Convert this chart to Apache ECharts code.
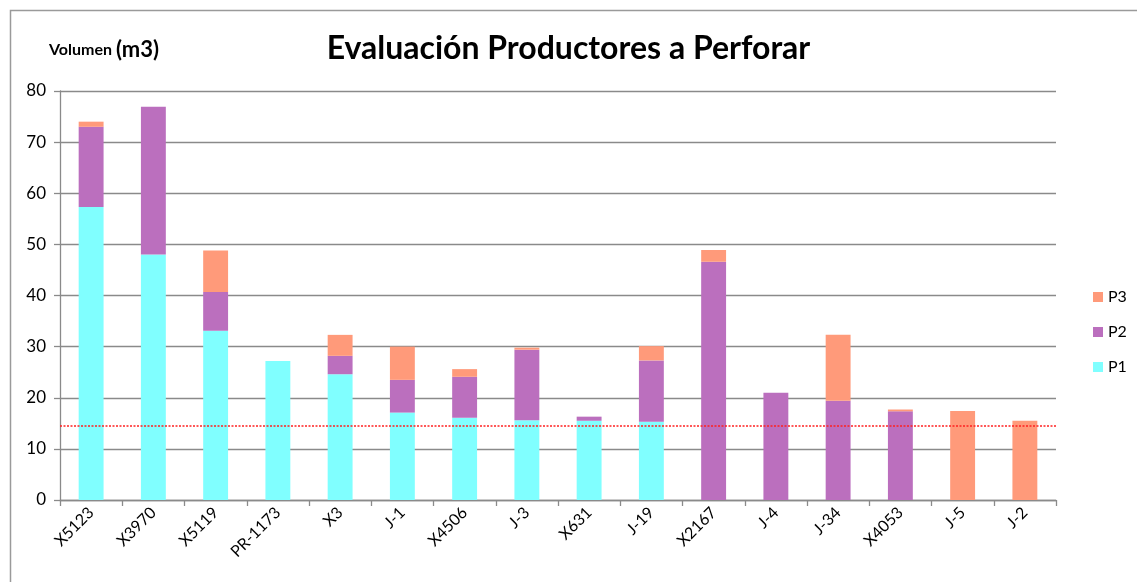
<!DOCTYPE html>
<html>
<head>
<meta charset="utf-8">
<script src="https://cdn.jsdelivr.net/npm/echarts@6/dist/echarts.min.js"></script>
<style>
  html, body { margin: 0; padding: 0; background: #fff; }
  #chart { width: 1137px; height: 582px; }
</style>
</head>
<body>
<div id="chart"></div>
<script>
// Wells evaluated, in plotted order
const categories = ['X5123', 'X3970', 'X5119', 'PR-1173', 'X3', 'J-1', 'X4506', 'J-3',
                    'X631', 'J-19', 'X2167', 'J-4', 'J-34', 'X4053', 'J-5', 'J-2'];

// Volume per reserve class (m3), stacked P1 -> P2 -> P3
const p1 = [57.3, 48.0, 33.1, 27.2, 24.6, 17.1, 16.1, 15.6, 15.5, 15.3, 0, 0, 0, 0, 0, 0];
const p2 = [15.7, 28.9, 7.6, 0, 3.6, 6.4, 8.0, 13.8, 0.8, 12.0, 46.6, 21.0, 19.4, 17.35, 0, 0];
const p3 = [1.0, 0, 8.1, 0, 4.1, 6.5, 1.5, 0.4, 0, 2.8, 2.3, 0, 12.9, 0.35, 17.4, 15.5];

// Minimum volume reference line
const threshold = 14.5;

// Y axis scale
const yMin = 0, yMax = 80, yStep = 10;

const font = 'Lato, "Open Sans", "Liberation Sans", sans-serif';
const gridGray = '#8a8a8a';

const chart = echarts.init(document.getElementById('chart'), null, { renderer: 'canvas' });

// Empty segments are left out so nothing is drawn on the baseline
const nz = arr => arr.map(v => (v === 0 ? '-' : v));

function barSeries(name, data, color, extra) {
  return Object.assign({
    name: name,
    type: 'bar',
    stack: 'vol',
    data: nz(data),
    barWidth: '40%',
    itemStyle: { color: color, borderWidth: 0 },
    emphasis: { disabled: true }
  }, extra || {});
}

chart.setOption({
  animation: false,
  backgroundColor: '#ffffff',
  textStyle: { fontFamily: font },
  title: {
    text: 'Evaluación Productores a Perforar',
    left: 'center',
    top: 28,
    textStyle: { fontFamily: font, fontSize: 32, fontWeight: 'bold', color: '#000' }
  },
  graphic: [
    {
      type: 'rect',
      silent: true,
      shape: { x: 10.5, y: 10.5, width: 1300, height: 800 },
      style: { fill: 'none', stroke: '#9a9a9a', lineWidth: 1.5 }
    },
    {
      type: 'text',
      left: 49,
      top: 39,
      style: {
        text: '{a|Volumen }{b|(m3)}',
        rich: {
          a: { fontFamily: font, fontSize: 16, fontWeight: 'bold', fill: '#000' },
          b: { fontFamily: font, fontSize: 22, fontWeight: 'bold', fill: '#000' }
        }
      }
    }
  ],
  legend: {
    orient: 'vertical',
    left: 1088,
    top: 284,
    itemWidth: 10,
    itemHeight: 10,
    itemGap: 19,
    icon: 'rect',
    data: ['P3', 'P2', 'P1'],
    textStyle: { fontFamily: font, fontSize: 16, color: '#000' }
  },
  grid: { left: 60, top: 91, right: 81, bottom: 82, containLabel: false },
  xAxis: {
    type: 'category',
    data: categories,
    axisLine: { lineStyle: { color: gridGray, width: 1.3 } },
    axisTick: { show: true, length: 6, lineStyle: { color: gridGray, width: 1.3 } },
    axisLabel: { rotate: 45, interval: 0, margin: 10, fontFamily: font, fontSize: 16, color: '#000' }
  },
  yAxis: {
    type: 'value',
    min: yMin,
    max: yMax,
    interval: yStep,
    axisLine: { show: true, lineStyle: { color: gridGray, width: 1.3 } },
    axisTick: { show: true, length: 6, lineStyle: { color: gridGray, width: 1.3 } },
    axisLabel: { margin: 14, fontFamily: font, fontSize: 17, color: '#000' },
    splitLine: { lineStyle: { color: gridGray, width: 1.3 } }
  },
  series: [
    barSeries('P1', p1, '#80ffff', {
      markLine: {
        silent: true,
        symbol: ['none', 'none'],
        label: { show: false },
        lineStyle: { color: '#ff2020', type: [2, 1.5], width: 1.5 },
        data: [{ yAxis: threshold }]
      }
    }),
    barSeries('P2', p2, '#bb6fbe'),
    barSeries('P3', p3, '#ff9a7a')
  ]
});
</script>
</body>
</html>
